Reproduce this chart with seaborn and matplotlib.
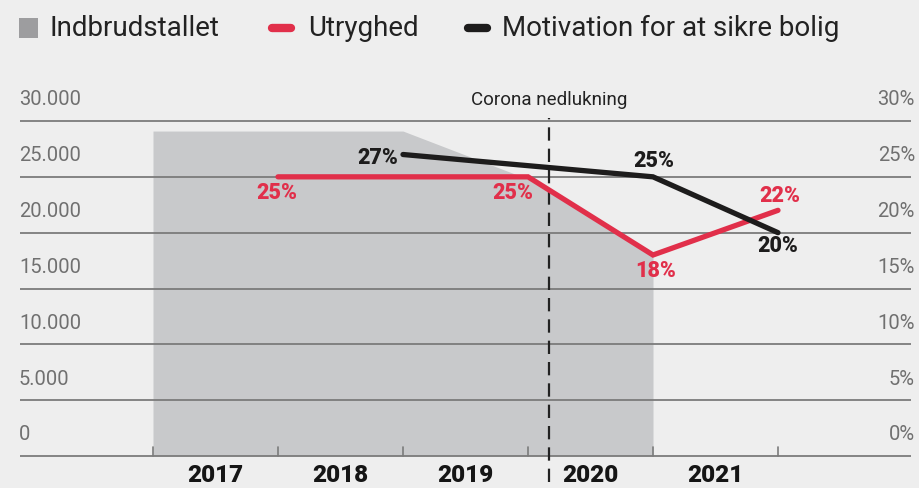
import matplotlib
matplotlib.use("Agg")
import matplotlib.pyplot as plt
from matplotlib.patches import Rectangle
from matplotlib.lines import Line2D
import seaborn as sns
import pandas as pd

# ---------------- data ----------------
years = ["2017", "2018", "2019", "2020", "2021"]
area_x = [0, 1, 2, 3, 4]
indbrud = [29100, 29100, 29100, 24800, 17900]

utryg_x = [1, 3, 4, 5]
utryghed = [25, 25, 18, 22]

motiv_x = [2, 4, 5]
motivation = [27, 25, 20]

left_ticks = [0, 5000, 10000, 15000, 20000, 25000, 30000]
left_labels = ["0", "5.000", "10.000", "15.000", "20.000", "25.000", "30.000"]
right_labels = ["0%", "5%", "10%", "15%", "20%", "25%", "30%"]
corona_x = 3.17
legend_labels = ["Indbrudstallet", "Utryghed", "Motivation for at sikre bolig"]

# ---------------- style ----------------
RED = "#e12f4a"
BLACK = "#1d1c1c"
GRAY_FILL = "#c8c9cb"
GRID = "#7b7b7b"
TXT_GRAY = "#707070"
BG = "#eeeeee"

sns.set_style("white")
plt.rcParams["font.family"] = ["Roboto", "DejaVu Sans"]

W, H = 919, 488
fig = plt.figure(figsize=(W / 100, H / 100), dpi=100)
fig.patch.set_facecolor(BG)

# pixel geometry of the plot frame
X0_PX, DX_PX = 153, 125          # x=0 pixel, pixels per category step
Y0_PX, PX_PER_UNIT = 456, 335 / 30000


def xpx(px):
    return (px - X0_PX) / DX_PX


ax = fig.add_axes([0, 0, 1, 1])
ax.set_facecolor("none")
ax.set_xlim(xpx(0), xpx(W))
ax.set_ylim((Y0_PX - H) / PX_PER_UNIT, Y0_PX / PX_PER_UNIT)
ax.axis("off")

ax2 = ax.twinx()
ax2.set_facecolor("none")

# gray area (Indbrudstallet)
ax.fill_between(area_x, 0, indbrud, color=GRAY_FILL, lw=0, zorder=1)

# gridlines
ax.hlines(left_ticks, xpx(20), xpx(911), color=GRID, lw=1.3, zorder=2)
# small tick marks on baseline
for i in range(len(years) + 1):
    ax.plot([i, i], [0, 9 / PX_PER_UNIT], color=GRID, lw=1.2, zorder=2)

# left / right tick labels
for v, ll, rl in zip(left_ticks, left_labels, right_labels):
    yv = v + 21 / PX_PER_UNIT
    ax.text(xpx(19), yv, ll, ha="left", va="center", fontsize=14.5, color=TXT_GRAY)
    ax.text(xpx(915), yv, rl, ha="right", va="center", fontsize=14.5, color=TXT_GRAY)

# year labels
for i, yr in enumerate(years):
    ax.text(i + 0.5, -(20 / PX_PER_UNIT), yr, ha="center", va="center",
            fontsize=17.5, fontweight="black", color="#151515")

# corona line
ax.plot([corona_x, corona_x], [-26 / PX_PER_UNIT, 338 / PX_PER_UNIT],
        color="#222222", lw=1.6, ls=(0, (6, 3.6)), zorder=3)
ax.text(corona_x, 356 / PX_PER_UNIT, "Corona nedlukning", ha="center",
        va="center", fontsize=13.5, color="#222222")

# lines via seaborn
df_u = pd.DataFrame({"x": utryg_x, "y": utryghed})
df_m = pd.DataFrame({"x": motiv_x, "y": motivation})
sns.lineplot(data=df_u, x="x", y="y", ax=ax2, color=RED, lw=3.8,
             solid_capstyle="round", solid_joinstyle="miter", zorder=5)
sns.lineplot(data=df_m, x="x", y="y", ax=ax2, color=BLACK, lw=3.8,
             solid_capstyle="round", solid_joinstyle="miter", zorder=5)
ax2.set_xlim(ax.get_xlim())
ax2.set_ylim(ax.get_ylim()[0] / 1000, ax.get_ylim()[1] / 1000)
ax2.axis("off")
if ax2.get_legend():
    ax2.get_legend().remove()

# data labels (offsets in pixels)
red_off = [(-1, -16), (-15, -16), (3, -16), (2, 14)]
blk_off = [(-25, -3), (1, 16), (0, -13)]
for x, y, off in zip(utryg_x, utryghed, red_off):
    ax2.annotate(f"{y}%", (x, y), xytext=off, textcoords="offset pixels",
                 ha="center", va="center", fontsize=15.5, fontweight="black",
                 color=RED, zorder=6)
for x, y, off in zip(motiv_x, motivation, blk_off):
    ax2.annotate(f"{y}%", (x, y), xytext=off, textcoords="offset pixels",
                 ha="center", va="center", fontsize=15.5, fontweight="black",
                 color=BLACK, zorder=6)

# legend (overlay in pixel coords)
ov = fig.add_axes([0, 0, 1, 1])
ov.set_xlim(0, W)
ov.set_ylim(H, 0)
ov.axis("off")
ov.set_facecolor("none")
ov.add_patch(Rectangle((19, 18), 19, 20, color="#9d9d9f", lw=0))
ov.text(50, 28, legend_labels[0], ha="left", va="center", fontsize=20, color="#222222")
ov.add_line(Line2D([272, 291], [28, 28], color=RED, lw=6, solid_capstyle="round"))
ov.text(308, 28, legend_labels[1], ha="left", va="center", fontsize=20, color="#222222")
ov.add_line(Line2D([468, 487], [28, 28], color=BLACK, lw=6, solid_capstyle="round"))
ov.text(502, 28, legend_labels[2], ha="left", va="center", fontsize=20, color="#222222")

fig.savefig("out.png", dpi=100, facecolor=BG)
